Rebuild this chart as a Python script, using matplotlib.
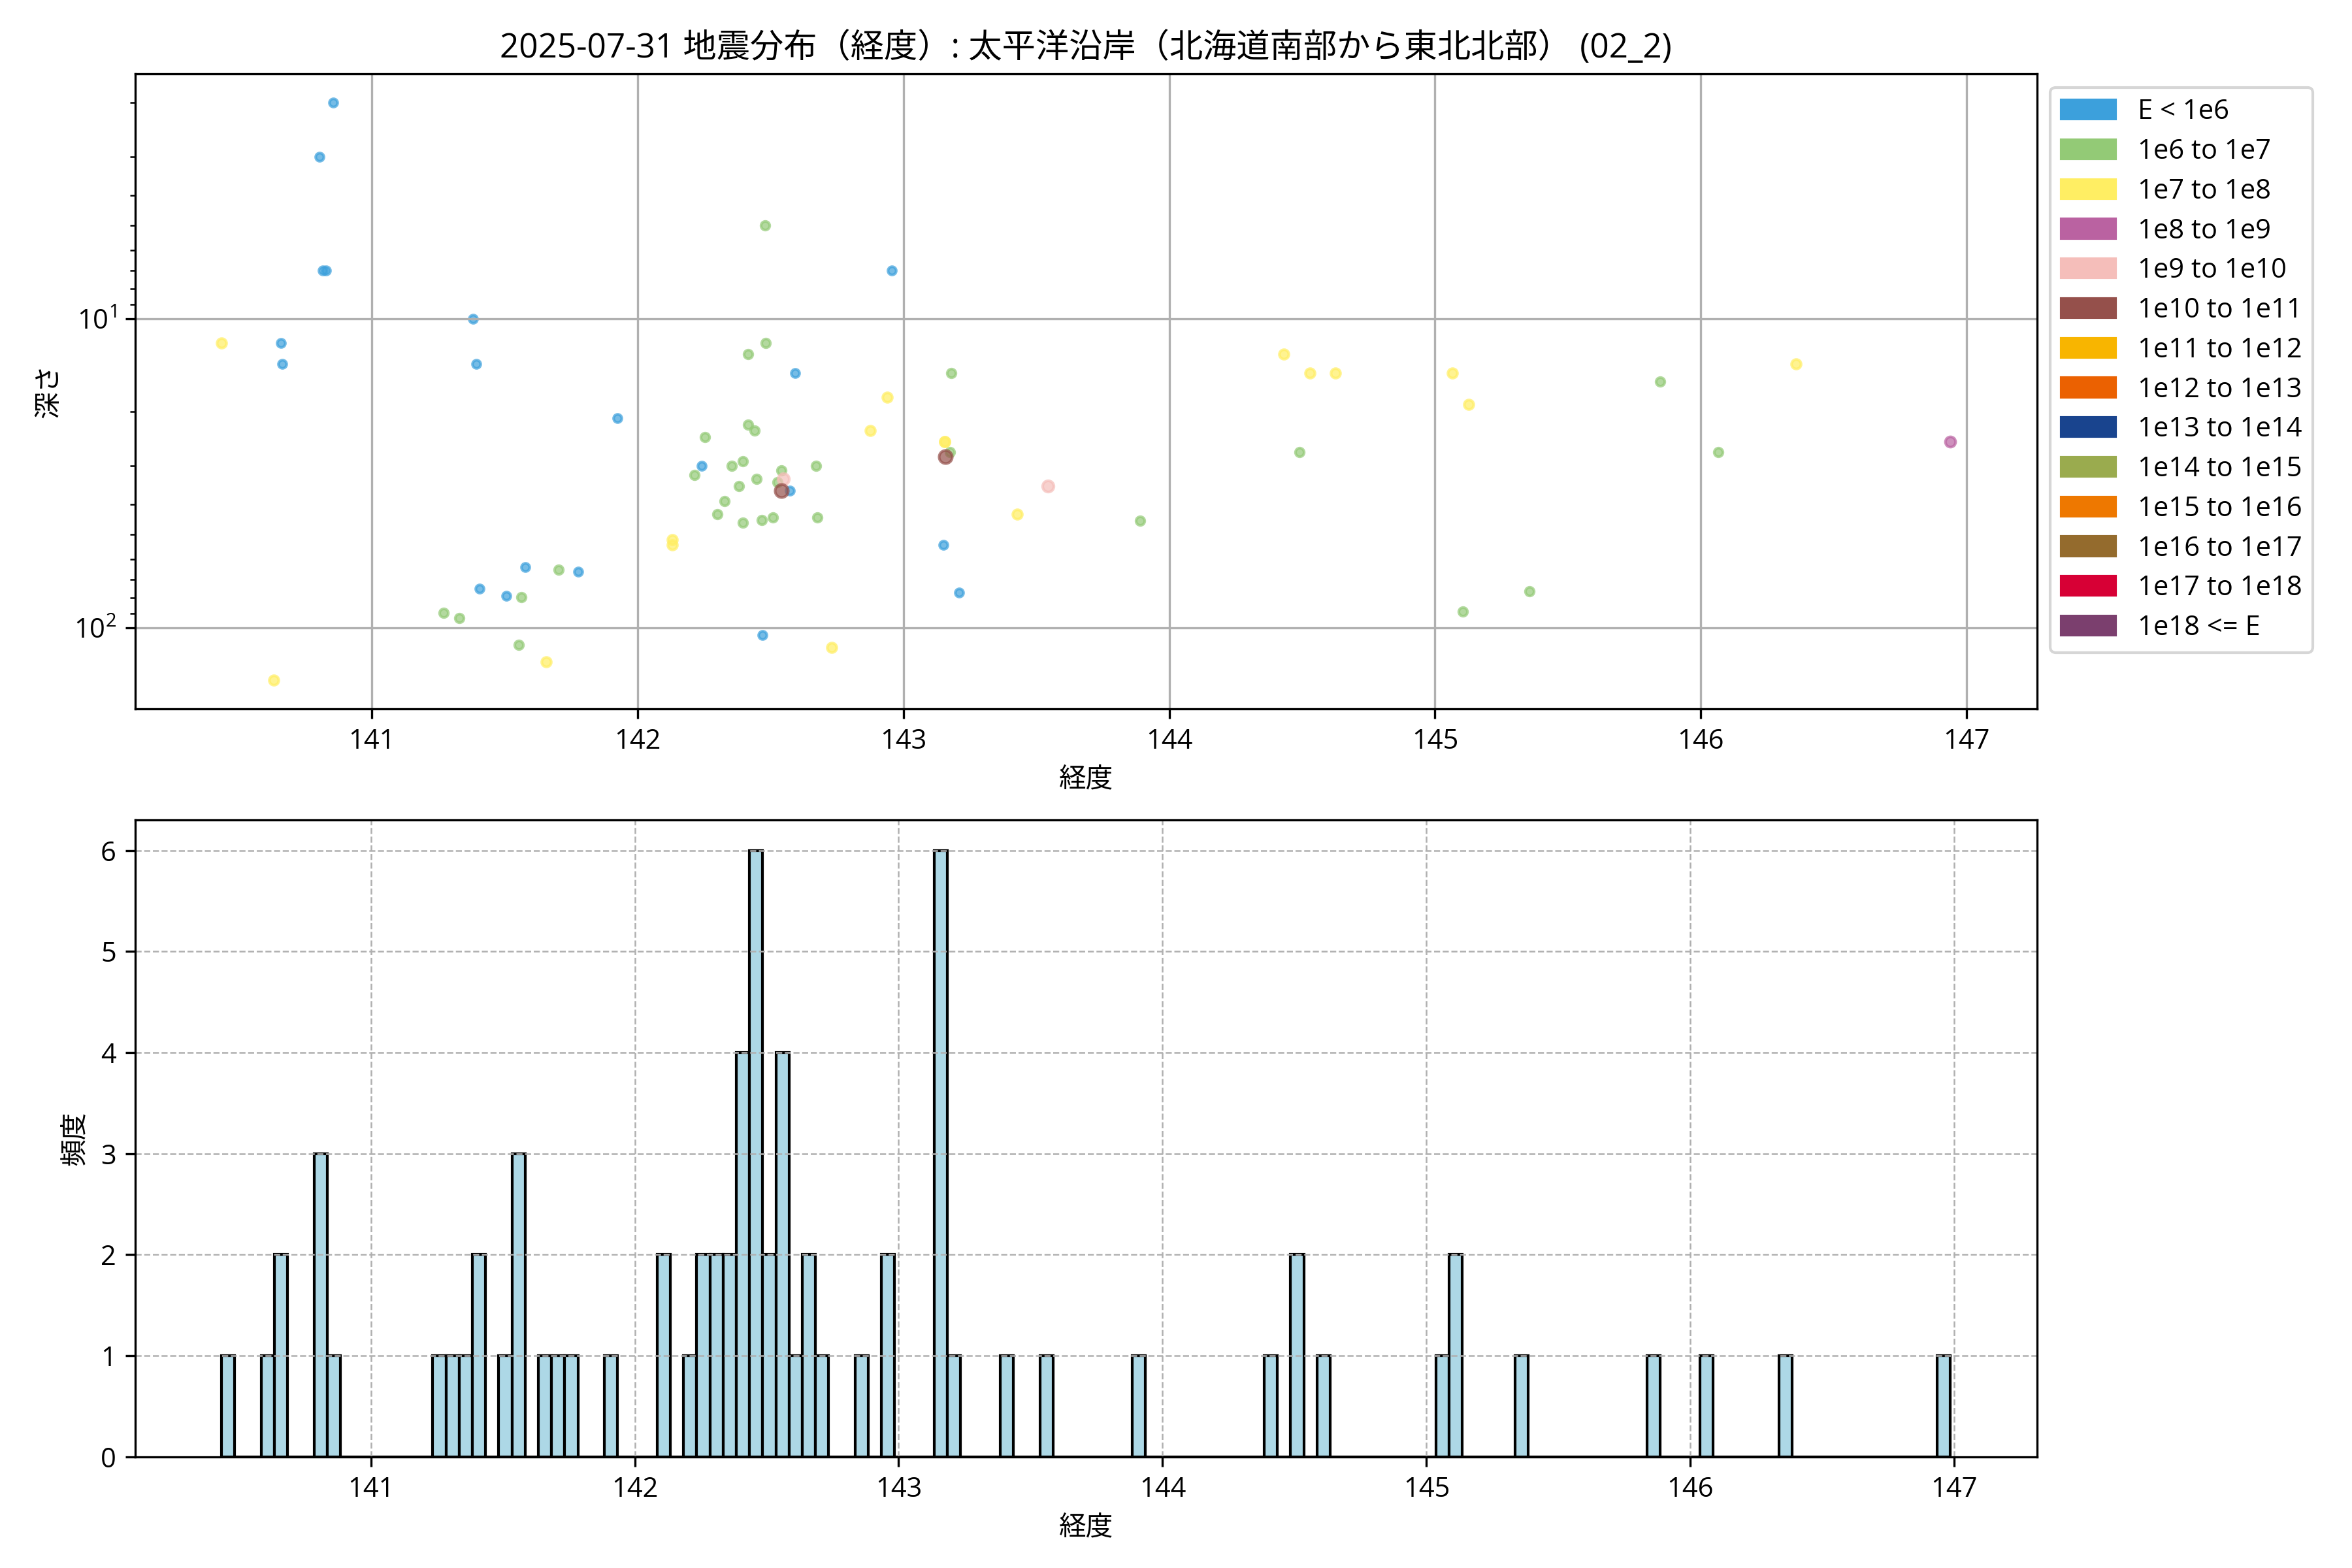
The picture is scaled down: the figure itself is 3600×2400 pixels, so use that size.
import numpy as np
import matplotlib
matplotlib.use("Agg")
import matplotlib.pyplot as plt
from matplotlib.patches import Patch

plt.rcParams['font.family'] = ['Open Sans', 'Noto Sans CJK JP', 'DejaVu Sans']

# energy classes (legend)
class_labels = ['E < 1e6', '1e6 to 1e7', '1e7 to 1e8', '1e8 to 1e9', '1e9 to 1e10',
                '1e10 to 1e11', '1e11 to 1e12', '1e12 to 1e13', '1e13 to 1e14',
                '1e14 to 1e15', '1e15 to 1e16', '1e16 to 1e17', '1e17 to 1e18', '1e18 <= E']
class_colors = ['#3ca0dc', '#93ca76', '#ffee63', '#ba62a1', '#f5beba', '#95504b',
                '#f8b500', '#eb6101', '#19448e', '#9aab4e', '#ee7800', '#946b2d',
                '#d70035', '#7b3f6e']
class_sizes = [9, 10, 12, 14, 17, 23, 26, 30, 34, 38, 42, 46, 50, 54]

# 経度 / 深さ (km) by class
lon_c0 = [140.855, 140.803, 140.815, 140.828, 141.380, 140.657, 140.662, 141.392,
          141.925, 142.957, 142.592, 142.240, 141.578, 141.777, 141.406, 141.507,
          142.573, 143.150, 143.209, 142.470]
dep_c0 = [2.0, 3.0, 7.0, 7.0, 10.0, 12.0, 14.0, 14.0,
          21.0, 7.0, 15.0, 30.0, 63.8, 65.9, 74.8, 78.8,
          36.0, 54.0, 76.9, 105.8]

lon_c1 = [142.252, 142.479, 142.481, 142.415, 143.180, 142.415, 142.440, 145.848,
          144.491, 146.066, 143.890, 145.355, 145.105, 142.215, 142.301, 141.703,
          141.562, 141.270, 141.330, 141.552, 143.174, 142.353, 142.397, 142.541,
          142.670, 142.448, 142.527, 142.380, 142.328, 142.510, 142.466, 142.397,
          142.676]
dep_c1 = [24.2, 5.0, 12.0, 13.0, 15.0, 22.0, 23.0, 16.0,
          27.0, 27.0, 45.0, 76.4, 88.6, 32.1, 43.0, 64.9,
          79.8, 89.7, 92.9, 113.5, 27.0, 30.0, 29.0, 31.0,
          30.0, 33.0, 33.9, 34.9, 39.0, 43.9, 44.9, 45.8,
          43.9]

lon_c2 = [140.435, 140.630, 142.130, 142.130, 142.940, 142.874, 143.155, 143.155,
          141.655, 142.730, 143.427, 144.430, 144.530, 144.625, 145.066, 146.359,
          145.127]
dep_c2 = [12.0, 147.6, 52.0, 54.0, 18.0, 23.0, 25.0, 25.0,
          128.8, 115.8, 43.0, 13.0, 15.0, 15.0, 15.0, 14.0,
          19.0]

lon_c3 = [146.939]
dep_c3 = [25.0]

lon_c4 = [142.547, 143.544]
dep_c4 = [33.0, 34.9]

lon_c5 = [143.157, 142.541]
dep_c5 = [28.0, 36.0]

lons = [lon_c0, lon_c1, lon_c2, lon_c3, lon_c4, lon_c5]
deps = [dep_c0, dep_c1, dep_c2, dep_c3, dep_c4, dep_c5]

fig = plt.figure(figsize=(12, 8), dpi=300)
ax1 = fig.add_axes([0.0575, 0.548, 0.8085, 0.405])
ax2 = fig.add_axes([0.0575, 0.071, 0.8085, 0.406])

for i in range(len(lons)):
    ax1.scatter(lons[i], deps[i], s=class_sizes[i], c=class_colors[i],
                edgecolors=class_colors[i], alpha=0.7)

ax1.set_yscale('log')
ax1.invert_yaxis()
ax1.grid(True, color='#b0b0b0', linewidth=0.8)
ax1.set_xlabel('経度')
ax1.set_ylabel('深さ')
ax1.set_title('2025-07-31 地震分布（経度）: 太平洋沿岸（北海道南部から東北北部） (02_2)', fontsize=12.3)

handles = [Patch(color=c, label=l) for c, l in zip(class_colors, class_labels)]
ax1.legend(handles=handles, loc='upper left', bbox_to_anchor=(1.0, 1.0), labelspacing=0.45)

all_lon = np.concatenate([np.array(l) for l in lons])
bins = np.arange(all_lon.min(), all_lon.max() + 0.05, 0.05)
ax2.hist(all_lon, bins=bins, color='lightblue', edgecolor='black')
ax2.grid(True, linestyle='--', linewidth=0.6)
ax2.set_xlabel('経度')
ax2.set_ylabel('頻度')

fig.savefig('out.png', dpi=300)
